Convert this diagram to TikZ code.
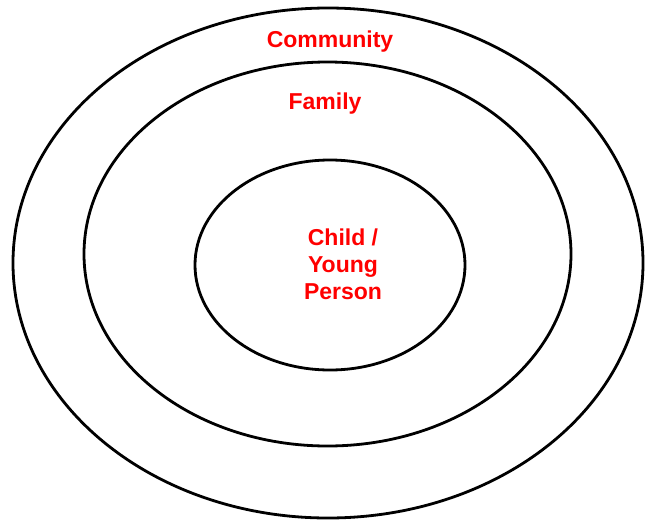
\documentclass[tikz,border=0pt]{standalone}
\usepackage{fontspec}
\setmainfont{Liberation Sans}
\usepackage{xcolor}
\usetikzlibrary{positioning}

\begin{document}
\begin{tikzpicture}[x=1pt,y=-1pt,
	ring/.style={line width=2.8pt},
	lbl/.style={text=red,font=\fontsize{23}{27}\selectfont\bfseries,align=center}]
	\useasboundingbox (0,0) rectangle (645,520);
	
	\draw[ring] (328,263) ellipse (315 and 255);
	\draw[ring] (327.5,254) ellipse (243.5 and 192);
	\draw[ring] (330,265) ellipse (135 and 105);
	
	\node[lbl] (community) at (330,42) {Community};
	\node[lbl] (family) at (325,104) {Family};
	\node[lbl] (child) at (343,264) {Child /\\Young\\Person};
\end{tikzpicture}
\end{document}
